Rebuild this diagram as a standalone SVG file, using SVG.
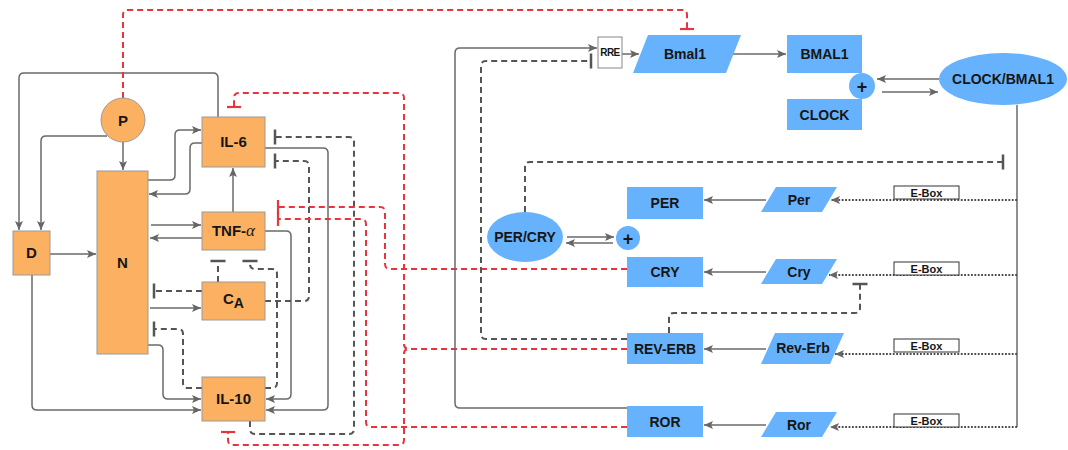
<svg xmlns="http://www.w3.org/2000/svg" width="1068" height="450" viewBox="0 0 1068 450">
  <style>
    .org { fill: #fbb062; stroke: #9a9a9a; stroke-width: 1; }
    .blu { fill: #66b2fc; }
    .lbl { font-family: "Liberation Sans", Arial, sans-serif; font-weight: bold; font-size: 15px; fill: #161616; text-anchor: middle; }
    .rl { font-size: 14px; }
    .pl { font-size: 18px; }
    .sol { fill: none; stroke: #6a6a6a; stroke-width: 1.5; }
    .dsh { fill: none; stroke: #555; stroke-width: 2; stroke-dasharray: 6 4; }
    .red { fill: none; stroke: #e8343c; stroke-width: 2; stroke-dasharray: 6 4; }
    .dot { fill: none; stroke: #4a4a4a; stroke-width: 1.8; stroke-dasharray: 1.8 1.6; }
    .ebox { fill: #fff; stroke: #333; stroke-width: 1; }
    .etx { font-family: "Liberation Sans", Arial, sans-serif; font-weight: bold; font-size: 11px; fill: #161616; text-anchor: middle; }
    .rre { font-size: 10px; letter-spacing: -0.6px; }
  </style>
  <defs>
    <marker id="ah" markerUnits="userSpaceOnUse" orient="auto" overflow="visible" markerWidth="1" markerHeight="1">
      <path d="M-9,-4 L0,0 L-9,4 L-7,0 z" fill="#666"/>
    </marker>
    <marker id="tg" markerUnits="userSpaceOnUse" orient="auto" overflow="visible" markerWidth="1" markerHeight="1">
      <path d="M0,-7.5 V7.5" stroke="#555" stroke-width="2.5"/>
    </marker>
    <marker id="tr" markerUnits="userSpaceOnUse" orient="auto" overflow="visible" markerWidth="1" markerHeight="1">
      <path d="M0,-7 V7" stroke="#e8343c" stroke-width="2.2"/>
    </marker>
  </defs>

  <g id="connectors">
    <!-- solid activations, immune side -->
    <path class="sol" marker-end="url(#ah)" d="M218,117 V78 Q218,73 213,73 H24 Q19,73 19,78 V230"/>
    <path class="sol" marker-end="url(#ah)" d="M107,136 H46 Q41,136 41,141 V230"/>
    <path class="sol" marker-end="url(#ah)" d="M123,142 V170"/>
    <path class="sol" marker-end="url(#ah)" d="M148,180 H170 Q175,180 175,175 V135 Q175,130 180,130 H201"/>
    <path class="sol" marker-end="url(#ah)" d="M202,143 H195 Q190,143 190,148 V189 Q190,194 185,194 H149"/>
    <path class="sol" marker-end="url(#ah)" d="M233,212 V168"/>
    <path class="sol" marker-end="url(#ah)" d="M151,225 H201"/>
    <path class="sol" marker-end="url(#ah)" d="M202,238 H150"/>
    <path class="sol" marker-end="url(#ah)" d="M50,254 H96"/>
    <path class="sol" marker-end="url(#ah)" d="M150,308 H201"/>
    <path class="sol" marker-end="url(#ah)" d="M148,345 H158 Q163,345 163,350 V394 Q163,399 168,399 H201"/>
    <path class="sol" marker-end="url(#ah)" d="M32,275 V405 Q32,410 37,410 H201"/>
    <path class="sol" marker-end="url(#ah)" d="M265,148 H323 Q328,148 328,153 V405 Q328,410 323,410 H266"/>
    <path class="sol" marker-end="url(#ah)" d="M265,231 H286 Q291,231 291,236 V394 Q291,399 286,399 H266"/>

    <!-- dashed inhibitions, immune side -->
    <path class="dsh" marker-end="url(#tg)" d="M250,421 V429 Q250,434 255,434 H349 Q354,434 354,429 V142 Q354,137 349,137 H275"/>
    <path class="dsh" marker-end="url(#tg)" d="M265,301 H304 Q309,301 309,296 V166 Q309,161 304,161 H275"/>
    <path class="dsh" marker-end="url(#tg)" d="M218,282 V261"/>
    <path class="dsh" marker-end="url(#tg)" d="M265,388 H272 Q277,388 277,383 V274 Q277,269 272,269 H255 Q250,269 250,264 V261"/>
    <path class="dsh" marker-end="url(#tg)" d="M202,291 H154"/>
    <path class="dsh" marker-end="url(#tg)" d="M202,388 H188 Q183,388 183,383 V334 Q183,329 178,329 H154"/>

    <!-- clock-to-immune red inhibitions -->
    <path class="red" marker-end="url(#tr)" d="M123,98 V15 Q123,10 128,10 H682 Q687,10 687,15 V29"/>
    <path class="red" marker-end="url(#tr)" d="M627,349 H409 Q404,349 404,344 V98 Q404,93 399,93 H239 Q234,93 234,98 V107"/>
    <path class="red" marker-end="url(#tr)" d="M627,349 H409 Q404,349 404,354 V440 Q404,445 399,445 H233 Q228,445 228,440 V432"/>
    <path class="red" marker-end="url(#tr)" d="M627,269 H390 Q385,269 385,264 V212 Q385,207 380,207 H278"/>
    <path class="red" marker-end="url(#tr)" d="M627,427 H371 Q366,427 366,422 V224 Q366,219 361,219 H278"/>

    <!-- clock side -->
    <path class="sol" marker-end="url(#ah)" d="M627,408 H460 Q455,408 455,403 V53 Q455,48 460,48 H597"/>
    <path class="dsh" marker-end="url(#tg)" d="M627,339 H486 Q481,339 481,334 V66 Q481,61 486,61 H591"/>
    <path class="dsh" marker-end="url(#tg)" d="M525,212 V167 Q525,162 530,162 H1003"/>
    <path class="dsh" marker-end="url(#tg)" d="M669,333 V318 Q669,313 674,313 H855 Q860,313 860,308 V284"/>
    <path class="sol" marker-end="url(#ah)" d="M622,54 H639"/>
    <path class="sol" marker-end="url(#ah)" d="M733,54 H786"/>
    <path class="sol" marker-end="url(#ah)" d="M939,79 H877"/>
    <path class="sol" marker-end="url(#ah)" d="M882,92 H938"/>
    <path class="sol" marker-end="url(#ah)" d="M567,237 H614"/>
    <path class="sol" marker-end="url(#ah)" d="M613,243 H566"/>
    <path class="sol" marker-end="url(#ah)" d="M766,200 H704"/>
    <path class="sol" marker-end="url(#ah)" d="M766,272 H704"/>
    <path class="sol" marker-end="url(#ah)" d="M766,349 H704"/>
    <path class="sol" marker-end="url(#ah)" d="M766,425 H704"/>
    <path class="sol" d="M1017,105 V427"/>
    <path class="dot" marker-end="url(#ah)" d="M1017,200 H831"/>
    <path class="dot" marker-end="url(#ah)" d="M1017,275 H829"/>
    <path class="dot" marker-end="url(#ah)" d="M1017,354 H835"/>
    <path class="dot" marker-end="url(#ah)" d="M1017,427 H830"/>
  </g>

  <!-- immune nodes -->
  <g id="node-P"><circle class="org" cx="123" cy="120" r="22"/><text class="lbl" x="123" y="126">P</text></g>
  <g id="node-N"><rect class="org" x="97" y="171" width="51" height="183"/><text class="lbl" x="122.5" y="268">N</text></g>
  <g id="node-D"><rect class="org" x="13" y="231" width="37" height="44"/><text class="lbl" x="31.5" y="258">D</text></g>
  <g id="node-IL6"><rect class="org" x="202" y="117" width="63" height="50"/><text class="lbl" x="233.5" y="147">IL-6</text></g>
  <g id="node-TNF"><rect class="org" x="202" y="212" width="63" height="38"/><text class="lbl" x="233.5" y="236">TNF-<tspan font-family="'Liberation Serif', serif" font-style="italic" font-weight="normal" font-size="17">α</tspan></text></g>
  <g id="node-CA"><rect class="org" x="202" y="282" width="63" height="38"/><text class="lbl" x="233.5" y="304">C<tspan dy="4" font-size="14">A</tspan></text></g>
  <g id="node-IL10"><rect class="org" x="202" y="377" width="63" height="44"/><text class="lbl" x="233.5" y="404">IL-10</text></g>

  <!-- clock nodes -->
  <g id="node-RRE"><rect x="598" y="37" width="24" height="31" fill="#fff" stroke="#888" stroke-width="1"/><text class="lbl rre" x="610" y="56">RRE</text></g>
  <g id="node-Bmal1g"><polygon class="blu" points="648,35 741,35 726,73 633,73"/><text class="lbl rl" x="685" y="59">Bmal1</text></g>
  <g id="node-BMAL1"><rect class="blu" x="787" y="35" width="75" height="38"/><text class="lbl rl" x="824.5" y="59">BMAL1</text></g>
  <g id="node-CLOCK"><rect class="blu" x="787" y="99" width="75" height="31"/><text class="lbl rl" x="824.5" y="120">CLOCK</text></g>
  <g id="node-plus1"><circle class="blu" cx="862" cy="86" r="13"/><text class="lbl pl" x="862" y="92.5">+</text></g>
  <g id="node-CLOCKBMAL1"><ellipse class="blu" cx="1003" cy="79" rx="64" ry="26"/><text class="lbl rl" x="1003" y="84">CLOCK/BMAL1</text></g>
  <g id="node-PERCRY"><ellipse class="blu" cx="525" cy="237" rx="38" ry="25"/><text class="lbl rl" x="525" y="242">PER/CRY</text></g>
  <g id="node-plus2"><circle class="blu" cx="628" cy="238" r="12"/><text class="lbl pl" x="628" y="244.5">+</text></g>
  <g id="node-PER"><rect class="blu" x="627" y="187" width="76" height="32"/><text class="lbl rl" x="665" y="208">PER</text></g>
  <g id="node-CRY"><rect class="blu" x="627" y="257" width="76" height="30"/><text class="lbl rl" x="665" y="277">CRY</text></g>
  <g id="node-REVERB"><rect class="blu" x="627" y="333" width="76" height="31"/><text class="lbl rl" x="665" y="354">REV-ERB</text></g>
  <g id="node-ROR"><rect class="blu" x="627" y="406" width="76" height="31"/><text class="lbl rl" x="665" y="427">ROR</text></g>
  <g id="node-Per"><polygon class="blu" points="776,187 837,187 822,212 761,212"/><text class="lbl rl" x="799" y="205">Per</text></g>
  <g id="node-Cry"><polygon class="blu" points="776,259 837,259 822,284 761,284"/><text class="lbl rl" x="799" y="277">Cry</text></g>
  <g id="node-RevErb"><polygon class="blu" points="775,333 844,333 830,364 761,364"/><text class="lbl rl" x="803" y="353">Rev-Erb</text></g>
  <g id="node-Ror"><polygon class="blu" points="776,412 837,412 822,437 761,437"/><text class="lbl rl" x="799" y="430">Ror</text></g>

  <!-- E-box promoter tags -->
  <g id="ebox-per"><rect class="ebox" x="894" y="186" width="65" height="13"/><text class="etx" x="926.5" y="196.5">E-Box</text></g>
  <g id="ebox-cry"><rect class="ebox" x="894" y="262" width="65" height="13"/><text class="etx" x="926.5" y="272.5">E-Box</text></g>
  <g id="ebox-reverb"><rect class="ebox" x="894" y="339" width="65" height="13"/><text class="etx" x="926.5" y="349.5">E-Box</text></g>
  <g id="ebox-ror"><rect class="ebox" x="894" y="414" width="65" height="13"/><text class="etx" x="926.5" y="424.5">E-Box</text></g>
</svg>
